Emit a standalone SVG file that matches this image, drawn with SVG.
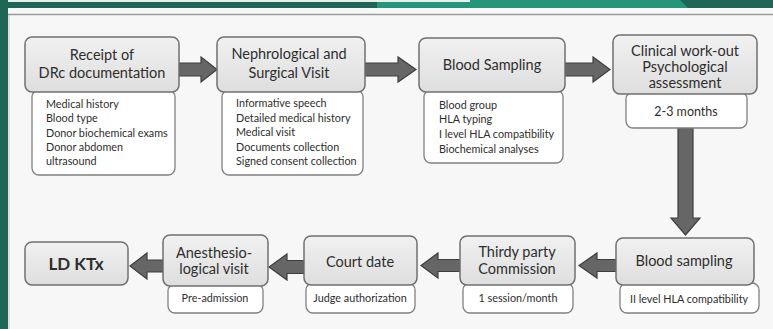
<svg xmlns="http://www.w3.org/2000/svg" width="773" height="329" viewBox="0 0 773 329">
<defs>
<linearGradient id="hg" x1="0" y1="0" x2="0" y2="1">
<stop offset="0" stop-color="#f1f1f1"/>
<stop offset="1" stop-color="#dedede"/>
</linearGradient>
<style>
.hd{fill:url(#hg);stroke:#707070;stroke-width:1.5}
.sb{fill:#ffffff;stroke:#808080;stroke-width:1.3}
.ht{font-family:Lato,"Liberation Sans",sans-serif;font-size:14.5px;fill:#2e2e2e;text-anchor:middle}
.st{font-family:Lato,"Liberation Sans",sans-serif;font-size:10.8px;fill:#2e2e2e}
.sc{text-anchor:middle}
.ar{fill:#666666;stroke:#3f3f3f;stroke-width:1.2;stroke-linejoin:miter}
</style>
</defs>
<rect x="0" y="0" width="773" height="329" fill="#f7f7f7"/>
<rect x="0" y="0" width="773" height="8" fill="#1e6656"/>
<polygon points="377,0 680,0 688,8 377,8" fill="#27957a"/>
<rect x="0" y="0" width="470" height="2" fill="#e8efec"/>
<rect x="0" y="0" width="8" height="329" fill="#1e6656"/>
<line x1="8" y1="14.5" x2="773" y2="14.5" stroke="#9a9a9a" stroke-width="1.5"/>
<line x1="9" y1="15" x2="9" y2="329" stroke="#c8c8c8" stroke-width="1"/>

<g id="connectors">
<path class="ar" d="M179,63 H201 V57 L217,69.5 L201,82 V76 H179 Z"/>
<path class="ar" d="M365,63 H398 V57 L416,69.5 L398,82 V76 H365 Z"/>
<path class="ar" d="M565,63 H593 V57 L610,69.5 L593,82 V76 H565 Z"/>
<path class="ar" d="M678,128 V218 H671 L685.5,235 L700,218 H693 V128 Z"/>
<path class="ar" d="M616,259.5 H597 V253 L579,265.5 L597,278 V271.5 H616 Z"/>
<path class="ar" d="M460,259.5 H438 V253 L421,265.5 L438,278 V271.5 H460 Z"/>
<path class="ar" d="M304,260.5 H287 V254 L269,267 L287,280 V273.5 H304 Z"/>
<path class="ar" d="M163,260 H147 V253 L130,266 L147,279 V272 H163 Z"/>
</g>

<g id="n1">
<rect class="sb" x="32" y="90" width="143" height="85" rx="7"/>
<rect class="hd" x="25" y="37" width="154" height="55" rx="7"/>
<text class="ht" x="102" y="60">Receipt of</text>
<text class="ht" x="102" y="78">DRc documentation</text>
<text class="st" x="46" y="108">Medical history</text>
<text class="st" x="46" y="122">Blood type</text>
<text class="st" x="46" y="136.5">Donor biochemical exams</text>
<text class="st" x="46" y="150.5">Donor abdomen</text>
<text class="st" x="46" y="164.5">ultrasound</text>
</g>

<g id="n2">
<rect class="sb" x="222" y="90" width="141" height="85" rx="7"/>
<rect class="hd" x="217" y="37" width="148" height="55" rx="7"/>
<text class="ht" x="289" y="59">Nephrological and</text>
<text class="ht" x="289" y="78">Surgical Visit</text>
<text class="st" x="236" y="107">Informative speech</text>
<text class="st" x="236" y="122">Detailed medical history</text>
<text class="st" x="236" y="136">Medical visit</text>
<text class="st" x="236" y="150.5">Documents collection</text>
<text class="st" x="236" y="164.5">Signed consent collection</text>
</g>

<g id="n3">
<rect class="sb" x="424" y="90" width="139" height="73" rx="7"/>
<rect class="hd" x="419" y="38" width="146" height="54" rx="7"/>
<text class="ht" x="492" y="70">Blood Sampling</text>
<text class="st" x="439" y="109">Blood group</text>
<text class="st" x="439" y="123">HLA typing</text>
<text class="st" x="439" y="138">I level HLA compatibility</text>
<text class="st" x="439" y="152.5">Biochemical analyses</text>
</g>

<g id="n4">
<rect class="sb" x="626" y="92" width="121" height="36" rx="7"/>
<rect class="hd" x="613" y="35" width="144" height="59" rx="7"/>
<text class="ht" x="685" y="56">Clinical work-out</text>
<text class="ht" x="685" y="72">Psychological</text>
<text class="ht" x="685" y="88">assessment</text>
<text class="st sc" x="686" y="115.5" style="font-size:12.5px">2-3 months</text>
</g>

<g id="n5">
<rect class="sb" x="620" y="283" width="139" height="30" rx="7"/>
<rect class="hd" x="616" y="238" width="138" height="47" rx="7"/>
<text class="ht" x="684" y="266">Blood sampling</text>
<text class="st sc" x="689" y="302.5">II level HLA compatibility</text>
</g>

<g id="n6">
<rect class="sb" x="463" y="283" width="110" height="30" rx="7"/>
<rect class="hd" x="460" y="236" width="115" height="49" rx="7"/>
<text class="ht" x="517" y="257">Thirdy party</text>
<text class="ht" x="517" y="274">Commission</text>
<text class="st sc" x="518" y="302">1 session/month</text>
</g>

<g id="n7">
<rect class="sb" x="306" y="283" width="109" height="30" rx="7"/>
<rect class="hd" x="304" y="236" width="113" height="49" rx="7"/>
<text class="ht" x="360" y="267">Court date</text>
<text class="st sc" x="360" y="302">Judge authorization</text>
</g>

<g id="n8">
<rect class="sb" x="168" y="284" width="95" height="29" rx="7"/>
<rect class="hd" x="163" y="235" width="105" height="51" rx="7"/>
<text class="ht" x="214" y="258">Anesthesio-</text>
<text class="ht" x="214" y="273.5">logical visit</text>
<text class="st sc" x="215" y="302">Pre-admission</text>
</g>

<g id="n9">
<rect class="hd" x="25" y="242" width="103" height="43" rx="7"/>
<text class="ht" x="76" y="270" style="font-weight:bold;font-size:17px">LD KTx</text>
</g>
</svg>
